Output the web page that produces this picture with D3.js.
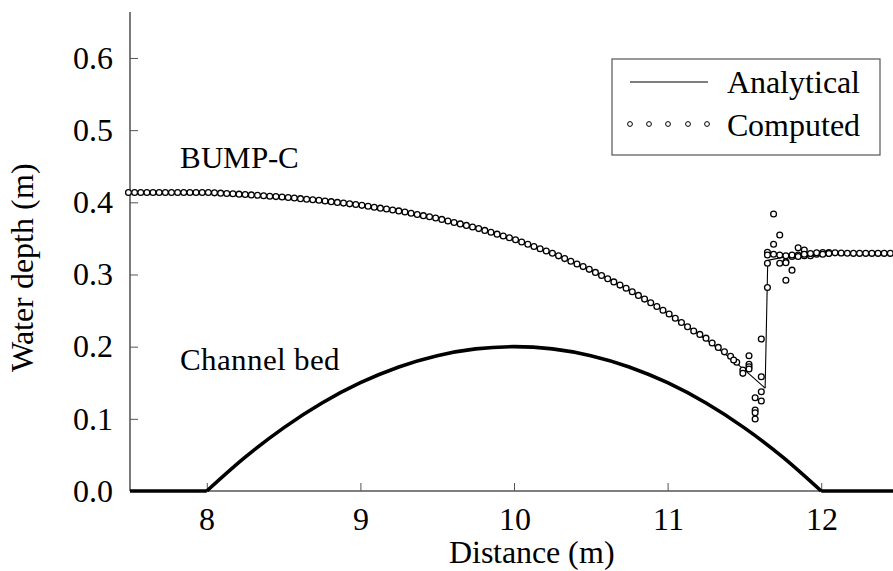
<!DOCTYPE html>
<html>
<head>
<meta charset="utf-8">
<script src="https://cdnjs.cloudflare.com/ajax/libs/d3/7.8.5/d3.min.js"></script>
<style>
@font-face { font-family: "ChartSerif"; src: local("Liberation Serif"), local("LiberationSerif"), local("Times New Roman"); }
svg text { font-family: "ChartSerif", "Liberation Serif", serif !important; }
</style>
</head>
<body style="margin:0">
<script>
// ---------- data ----------
const xTicks = [8, 9, 10, 11, 12];
const yTicks = [0, 0.1, 0.2, 0.3, 0.4, 0.5, 0.6];
const yTickLabels = ["0.0", "0.1", "0.2", "0.3", "0.4", "0.5", "0.6"];

// Channel bed (bump)
const bedFlatLeftX = [7.5, 8];
const bedFlatRightX = [12, 12.5];
const bedX = [8, 8.25, 8.5, 8.75, 9, 9.25, 9.5, 9.75, 10, 10.25, 10.5, 10.75, 11, 11.25, 11.5, 11.75, 12];
const bedZ = [0, 0.0469, 0.0875, 0.1219, 0.15, 0.1719, 0.1875, 0.1969, 0.2, 0.1969, 0.1875, 0.1719, 0.15, 0.1219, 0.0875, 0.0469, 0];

// Analytical water surface: upstream branch (before the jump) and downstream branch
const anaUpX = [7.5, 8, 8.25, 8.5, 8.75, 9, 9.25, 9.5, 9.75, 10, 10.25, 10.5, 10.75, 11, 11.25, 11.5, 11.635];
const anaUpY = [0.4137, 0.4137, 0.4109, 0.4072, 0.4024, 0.3961, 0.3881, 0.3778, 0.3649, 0.3489, 0.3295, 0.3062, 0.2787, 0.2467, 0.2098, 0.1679, 0.1425];
const anaDnX = [11.652, 11.75, 11.875, 12, 12.5];
const anaDnY = [0.3196, 0.3237, 0.3272, 0.3300, 0.3300];

// Computed values (grid points)
const compX = [7.49,7.53,7.57,7.61,7.65,7.69,7.73,7.77,7.81,7.85,7.89,7.93,7.97,8.01,8.05,8.09,8.13,8.17,8.21,8.25,
8.29,8.33,8.37,8.41,8.45,8.49,8.53,8.57,8.61,8.65,8.69,8.73,8.77,8.81,8.85,8.89,8.93,8.97,9.01,9.05,
9.09,9.13,9.17,9.21,9.25,9.29,9.33,9.37,9.41,9.45,9.49,9.53,9.57,9.61,9.65,9.69,9.73,9.77,9.81,9.85,
9.89,9.93,9.97,10.01,10.05,10.09,10.13,10.17,10.21,10.25,10.29,10.33,10.37,10.41,10.45,10.49,10.53,10.57,10.61,10.65,
10.69,10.73,10.77,10.81,10.85,10.89,10.93,10.97,11.01,11.05,11.09,11.13,11.17,11.21,11.25,11.29,11.33,11.37,11.41,11.45,
11.49,11.53,11.57,11.61,11.65,11.69,11.73,11.77,11.81,11.85,11.89,11.93,11.97,12.01,12.05,12.09,12.13,12.17,12.21,12.25,
12.29,12.33,12.37,12.41,12.45,12.49];
const compY = [0.4137,0.4137,0.4137,0.4137,0.4137,0.4137,0.4137,0.4137,0.4137,0.4137,0.4137,0.4137,0.4137,0.4137,0.4131,0.4127,0.4122,0.4118,0.4113,0.4109,
0.4103,0.4097,0.4091,0.4085,0.4079,0.4073,0.4066,0.4059,0.4051,0.4043,0.4036,0.4028,0.4019,0.4009,0.3999,0.3989,0.3979,0.3969,0.3958,0.3945,
0.3932,0.3919,0.3907,0.3894,0.3881,0.3865,0.3848,0.3832,0.3815,0.3799,0.3782,0.3763,0.3742,0.3721,0.3701,0.3680,0.3659,0.3636,0.3611,0.3585,
0.3559,0.3534,0.3508,0.3481,0.3450,0.3419,0.3388,0.3357,0.3326,0.3295,0.3258,0.3220,0.3183,0.3146,0.3109,0.3071,0.3029,0.2985,0.2941,0.2897,
0.2853,0.2809,0.2761,0.2710,0.2659,0.2608,0.2557,0.2505,0.2452,0.2393,0.2334,0.2275,0.2216,0.2170,0.2118,0.2050,0.1990,0.1928,0.1868,0.1783,
0.1677,0.1755,0.1293,0.2106,0.2820,0.3838,0.3547,0.3177,0.3060,0.3370,0.3340,0.3260,0.3280,0.3305,0.3305,0.3300,0.3297,0.3295,0.3293,0.3293,
0.3293,0.3293,0.3293,0.3293,0.3293,0.3293];

// Extra computed points scattered around the hydraulic jump
const extraX = [11.43, 11.49, 11.53, 11.53, 11.53, 11.57, 11.57, 11.57, 11.61, 11.61, 11.61, 11.65, 11.65, 11.65, 11.69, 11.69, 11.73, 11.73, 11.77, 11.77, 11.77, 11.81, 11.81, 11.85, 11.85, 11.89, 11.89, 11.93, 11.97, 12.01, 12.05];
const extraY = [0.1815, 0.1630, 0.1875, 0.1720, 0.1690, 0.1122, 0.1085, 0.0998, 0.1584, 0.1376, 0.1247, 0.3155, 0.3307, 0.3270, 0.3418, 0.3280, 0.3155, 0.3270, 0.2920, 0.3163, 0.3260, 0.3250, 0.3270, 0.3270, 0.3250, 0.3260, 0.3280, 0.3290, 0.3300, 0.3280, 0.3290];

const legendLabels = ["Analytical", "Computed"];

// ---------- drawing ----------
const FONT = "Liberation Serif";
const W = 893, H = 571;
const svg = d3.select("body").append("svg").attr("width", W).attr("height", H)
  .style("display", "block").attr("font-family", FONT);

const x = d3.scaleLinear().domain([7.5, 12.5]).range([130, 898]);
const y = d3.scaleLinear().domain([0, 0.6637]).range([491, 12]);

const axisColor = "#555";

// bottom axis
const xAxis = svg.append("g").attr("transform", `translate(0,${y(0)})`)
  .call(d3.axisBottom(x).tickValues(xTicks).tickSizeInner(-8).tickSizeOuter(0).tickPadding(16).tickFormat(d3.format("d")));
xAxis.attr("font-family", FONT).attr("font-size", 32);
xAxis.select(".domain").attr("stroke", axisColor).attr("stroke-width", 1.3).attr("d", `M${x(7.5)},0H${W}`);
xAxis.selectAll(".tick line").attr("stroke", axisColor);
xAxis.selectAll(".tick text").attr("font-size", 32).attr("dy", "0.71em").attr("font-family", FONT).attr("fill", "#000");

// left axis
const yAxis = svg.append("g").attr("transform", `translate(${x(7.5)},0)`)
  .call(d3.axisLeft(y).tickValues(yTicks).tickSizeInner(-8).tickSizeOuter(0).tickPadding(17)
    .tickFormat((d, i) => yTickLabels[i]));
yAxis.attr("font-family", FONT).attr("font-size", 32);
yAxis.select(".domain").attr("stroke", "#333").attr("stroke-width", 1.3).attr("d", `M0,${y(0)}V${y.range()[1]}`);
yAxis.selectAll(".tick line").attr("stroke", axisColor);
yAxis.selectAll(".tick text").attr("font-size", 32).attr("font-family", FONT).attr("fill", "#000");

// axis titles
svg.append("text").attr("x", (x(7.5) + W) / 2 + 20).attr("y", 563)
  .attr("text-anchor", "middle").attr("font-size", 32).attr("font-family", FONT).attr("fill", "#000").text("Distance (m)");
svg.append("text").attr("transform", `translate(33,${y(0.31)}) rotate(-90)`)
  .attr("text-anchor", "middle").attr("font-size", 32).attr("font-family", FONT).attr("fill", "#000").text("Water depth (m)");

// channel bed
const bedLine = d3.line().x(d => x(d[0])).y(d => y(d[1]));
const bedCurve = d3.line().x(d => x(d[0])).y(d => y(d[1])).curve(d3.curveMonotoneX);
svg.append("path").attr("d", bedLine(bedFlatLeftX.map(v => [v, 0])))
  .attr("fill", "none").attr("stroke", "#000").attr("stroke-width", 3.6);
svg.append("path").attr("d", bedLine(bedFlatRightX.map(v => [v, 0])))
  .attr("fill", "none").attr("stroke", "#000").attr("stroke-width", 3.6);
svg.append("path").attr("d", bedCurve(bedX.map((v, i) => [v, bedZ[i]])))
  .attr("fill", "none").attr("stroke", "#000").attr("stroke-width", 3.6);

// analytical line
const anaCurve = d3.line().x(d => x(d[0])).y(d => y(d[1])).curve(d3.curveMonotoneX);
const up = anaUpX.map((v, i) => [v, anaUpY[i]]);
const dn = anaDnX.map((v, i) => [v, anaDnY[i]]);
svg.append("path").attr("d", anaCurve(up)).attr("fill", "none").attr("stroke", "#000").attr("stroke-width", 1.1);
svg.append("path").attr("d", bedLine([up[up.length - 1], dn[0]])).attr("fill", "none").attr("stroke", "#000").attr("stroke-width", 1.1);
svg.append("path").attr("d", anaCurve(dn)).attr("fill", "none").attr("stroke", "#000").attr("stroke-width", 1.1);

// computed circles
const pts = compX.map((v, i) => [v, compY[i]]).concat(extraX.map((v, i) => [v, extraY[i]]));
svg.append("g").selectAll("circle").data(pts).join("circle")
  .attr("cx", d => x(d[0])).attr("cy", d => y(d[1])).attr("r", 2.9)
  .attr("fill", "#fff").attr("stroke", "#000").attr("stroke-width", 1.3);

// annotations
svg.append("text").attr("x", 180).attr("y", 168).attr("font-size", 31).attr("font-family", FONT).attr("fill", "#000").text("BUMP-C");
svg.append("text").attr("x", 180).attr("y", 370).attr("font-size", 31).attr("font-family", FONT).attr("fill", "#000").text("Channel bed");

// legend
const lg = svg.append("g");
lg.append("rect").attr("x", 612).attr("y", 59).attr("width", 268).attr("height", 96)
  .attr("fill", "#fff").attr("stroke", "#555").attr("stroke-width", 1.2);
lg.append("line").attr("x1", 630).attr("x2", 708).attr("y1", 82).attr("y2", 82)
  .attr("stroke", "#000").attr("stroke-width", 1.1);
lg.selectAll("circle.lgc").data([630, 649, 668, 688, 707]).join("circle").attr("class", "lgc")
  .attr("cx", d => d).attr("cy", 124).attr("r", 2.4)
  .attr("fill", "#fff").attr("stroke", "#000").attr("stroke-width", 1);
lg.append("text").attr("x", 727).attr("y", 93).attr("font-size", 32).attr("font-family", FONT).attr("fill", "#000").text(legendLabels[0]);
lg.append("text").attr("x", 727).attr("y", 136).attr("font-size", 32).attr("font-family", FONT).attr("fill", "#000").text(legendLabels[1]);
</script>
</body>
</html>
